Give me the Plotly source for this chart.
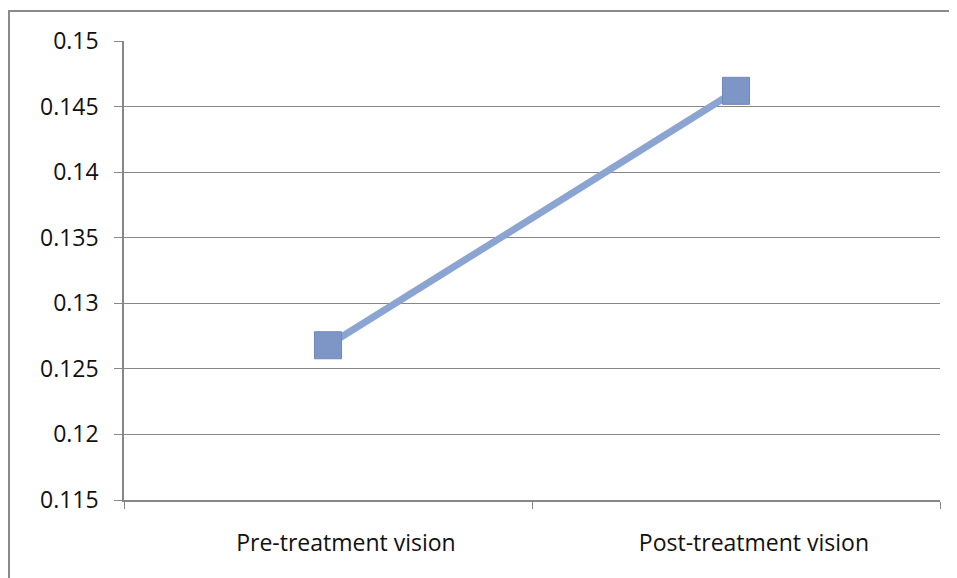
import plotly.graph_objects as go

categories = ["Pre-treatment vision", "Post-treatment vision"]
values = [0.1268, 0.1462]
y_ticks = [0.115, 0.12, 0.125, 0.13, 0.135, 0.14, 0.145, 0.15]
y_tick_labels = ["0.115", "0.12", "0.125", "0.13", "0.135", "0.14", "0.145", "0.15"]

# page body has an 8px margin, so the figure is drawn 8px smaller
W, H = 949, 570
ml, mr, mt, mb = 116, 17, 33, 78
pw, ph = W - ml - mr, H - mt - mb

fig = go.Figure()
fig.add_trace(go.Scatter(
    x=categories, y=values, mode="lines+markers",
    line=dict(color="#8CA4D2", width=7),
    marker=dict(symbol="square", size=27, color="#7D96C6",
                line=dict(color="#6F88BA", width=1)),
    showlegend=False,
))

grid = "#878787"
pad = "\u00a0" * 6
fig.update_layout(
    width=W, height=H,
    margin=dict(l=ml, r=mr, t=mt, b=mb),
    paper_bgcolor="white", plot_bgcolor="white",
    font=dict(family="Open Sans", size=23, color="#111"),
    xaxis=dict(
        type="category", range=[-0.5, 1.5], showgrid=False,
        showline=True, linecolor=grid, linewidth=1.5,
        ticks="outside", tickson="boundaries", ticklen=7, tickcolor=grid,
        tickvals=categories, ticktext=[pad + c for c in categories],
        tickfont=dict(size=23), ticklabelstandoff=22,
    ),
    yaxis=dict(
        range=[0.115, 0.15], tickvals=y_ticks, ticktext=y_tick_labels,
        showgrid=True, gridcolor=grid, gridwidth=1.3,
        showline=True, linecolor=grid, linewidth=1.5,
        ticks="outside", ticklen=8, tickcolor=grid,
        tickfont=dict(size=23), ticklabelstandoff=11,
        zeroline=False,
    ),
    shapes=[dict(
        type="rect", xref="paper", yref="paper",
        x0=(1 - ml) / pw, x1=(W + 10 - ml) / pw,
        y0=-(mb + 10) / ph, y1=(H - 3 - mb) / ph,
        line=dict(color="#8A8A8A", width=2), fillcolor="rgba(0,0,0,0)",
        layer="below",
    )],
)

fig.write_html("out.html")
